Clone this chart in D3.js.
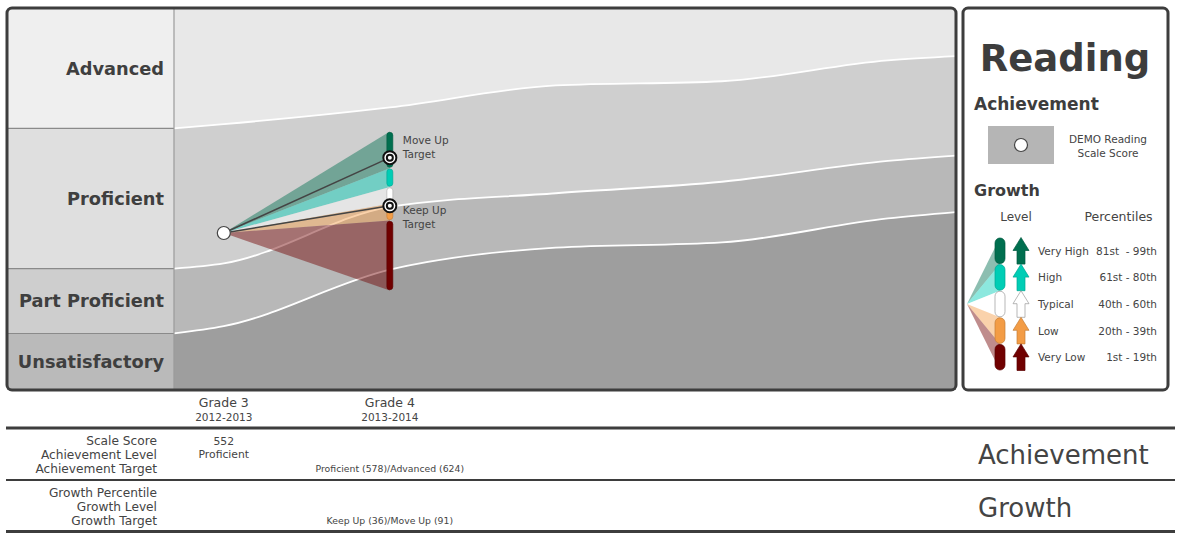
<!DOCTYPE html>
<html><head><meta charset="utf-8">
<script src="https://cdn.jsdelivr.net/npm/d3@7"></script>
<style>body{margin:0;background:#fff;} svg{display:block;font-family:"DejaVu Sans",sans-serif;}</style>
</head><body>
<svg id="chart" width="1181" height="539"></svg>
<script>
// ---------- data ----------
const levels = ["Advanced", "Proficient", "Part Proficient", "Unsatisfactory"];
const cutGrades = [2.7, 3, 4, 5, 6, 7, 7.41];
const cutAdvanced = [652, 656, 672, 693, 697, 717, 721];
const cutProficient = [518, 523, 577, 590, 601, 621, 626];
const cutPartProficient = [456, 463, 517, 538, 543, 566, 572];
const scoreDomain = [402, 767];
const gradeDomain = [2.7, 7.41];
const gradeNums = [3, 4];
const gradeLabels = ["Grade 3", "Grade 4"];
const yearLabels = ["2012-2013", "2013-2014"];
const studentScores = [552];
const studentLevels = ["Proficient"];
const growthLevels = ["Very High", "High", "Typical", "Low", "Very Low"];
const growthPercentileLabels = ["81st  - 99th", "61st - 80th", "40th - 60th", "20th - 39th", "1st - 19th"];
const growthBounds = [649, 614, 596, 580, 564, 497]; // grade 4 projected scores at 99th/80th/60th/40th/20th/1st
const targetNames = ["Move Up", "Keep Up"];
const targetScores = [624, 578];
const achievementTargetText = "Proficient (578)/Advanced (624)";
const growthTargetText = "Keep Up (36)/Move Up (91)";
const rowLabelsAch = ["Scale Score", "Achievement Level", "Achievement Target"];
const rowLabelsGrowth = ["Growth Percentile", "Growth Level", "Growth Target"];

// ---------- styles ----------
const bandColors = ["#e8e8e8", "#cfcfcf", "#b8b8b8", "#9e9e9e"];
const panelColors = ["#efefef", "#dfdfdf", "#cecece", "#bababa"];
const growthColors = ["#006f4f", "#00cdb5", "#ffffff", "#f39c45", "#700000"];
const ink = "#3d3d3d", txt = "#444";

const svg = d3.select("#chart");
const plot = {x0: 174, x1: 956, y0: 8, y1: 390};
const x = d3.scaleLinear().domain(gradeDomain).range([plot.x0, plot.x1]);
const y = d3.scaleLinear().domain(scoreDomain).range([plot.y1, plot.y0]);

svg.append("defs").append("clipPath").attr("id", "pc")
  .append("rect").attr("x", plot.x0).attr("y", plot.y0)
  .attr("width", plot.x1 - plot.x0).attr("height", plot.y1 - plot.y0);

const cuts = [cutAdvanced, cutProficient, cutPartProficient];
const topEdge = cutGrades.map(() => scoreDomain[1]);
const botEdge = cutGrades.map(() => scoreDomain[0]);
const bounds = [topEdge, ...cuts, botEdge];

const g = svg.append("g").attr("clip-path", "url(#pc)");
levels.forEach((lv, i) => {
  const upper = bounds[i], lower = bounds[i + 1];
  const area = d3.area().curve(d3.curveMonotoneX)
    .x((d, j) => x(cutGrades[j]))
    .y0((d, j) => y(lower[j])).y1((d, j) => y(upper[j]));
  g.append("path").attr("d", area(cutGrades)).attr("fill", bandColors[i]);
});
cuts.forEach(c => {
  const line = d3.line().curve(d3.curveMonotoneX)
    .x((d, j) => x(cutGrades[j])).y((d, j) => y(c[j]));
  g.append("path").attr("d", line(cutGrades)).attr("fill", "none")
    .attr("stroke", "#fff").attr("stroke-width", 1.8);
});

// left label panel
levels.forEach((lv, i) => {
  const yt = y(bounds[i][0]), yb = y(bounds[i + 1][0]);
  svg.append("rect").attr("x", 7).attr("y", yt).attr("width", plot.x0 - 7)
    .attr("height", yb - yt).attr("fill", panelColors[i]);
  svg.append("text").attr("x", 164).attr("y", (yt + yb) / 2).attr("dy", "0.36em")
    .attr("text-anchor", "end").attr("font-size", 17.8).attr("font-weight", "bold")
    .attr("fill", "#3f3f3f").text(lv);
});
cuts.forEach(c => {
  svg.append("line").attr("x1", 7).attr("x2", plot.x0).attr("y1", y(c[0])).attr("y2", y(c[0]))
    .attr("stroke", "#8a8a8a").attr("stroke-width", 1.2);
});
svg.append("line").attr("x1", plot.x0).attr("x2", plot.x0).attr("y1", plot.y0).attr("y2", plot.y1)
  .attr("stroke", "#9a9a9a").attr("stroke-width", 1.2);

// growth fan
const sx = x(gradeNums[0]), sy = y(studentScores[0]);
const tx = x(gradeNums[1]);
growthLevels.forEach((lv, i) => {
  const pts = [[sx, sy], [tx, y(growthBounds[i])], [tx, y(growthBounds[i + 1])]];
  svg.append("path").attr("d", "M" + pts.join("L") + "Z")
    .attr("fill", growthColors[i]).attr("fill-opacity", 0.45);
});
growthLevels.forEach((lv, i) => {
  const y0 = y(growthBounds[i]), y1 = y(growthBounds[i + 1]);
  svg.append("rect").attr("x", tx - 3).attr("y", y0 + 0.8).attr("width", 6)
    .attr("height", y1 - y0 - 1.6).attr("rx", 3)
    .attr("fill", growthColors[i])
    .attr("stroke", i === 2 ? "#aaa" : d3.color(growthColors[i]).darker(0.6))
    .attr("stroke-width", 0.6);
});
// target lines
targetScores.forEach(s => {
  svg.append("line").attr("x1", sx).attr("y1", sy).attr("x2", tx).attr("y2", y(s))
    .attr("stroke", "#444").attr("stroke-width", 1.5);
});
targetScores.forEach((s, i) => {
  const ty = y(s);
  svg.append("circle").attr("cx", tx).attr("cy", ty).attr("r", 6.5)
    .attr("fill", "#fff").attr("stroke", "#111").attr("stroke-width", 2);
  svg.append("circle").attr("cx", tx).attr("cy", ty).attr("r", 3)
    .attr("fill", "#fff").attr("stroke", "#111").attr("stroke-width", 2);
  const offs = i === 0 ? [-14, 0] : [8, 22];
  [targetNames[i], "Target"].forEach((t, k) => {
    svg.append("text").attr("x", tx + 13).attr("y", ty + offs[k])
      .attr("font-size", 10.5).attr("fill", txt).text(t);
  });
});
svg.append("circle").attr("cx", sx).attr("cy", sy).attr("r", 6.5)
  .attr("fill", "#fff").attr("stroke", "#444").attr("stroke-width", 1.2);

// main frame
svg.append("rect").attr("x", 7).attr("y", 8).attr("width", 949).attr("height", 382)
  .attr("rx", 5).attr("fill", "none").attr("stroke", ink).attr("stroke-width", 3);

// ---------- legend ----------
const L = svg.append("g");
L.append("rect").attr("x", 963).attr("y", 8).attr("width", 205).attr("height", 382)
  .attr("rx", 5).attr("fill", "#fff").attr("stroke", ink).attr("stroke-width", 3);
L.append("text").attr("x", 1065).attr("y", 71).attr("text-anchor", "middle")
  .attr("font-size", 37).attr("font-weight", "bold").attr("fill", ink).text("Reading");
L.append("text").attr("x", 974).attr("y", 110).attr("font-size", 17)
  .attr("font-weight", "bold").attr("fill", ink).text("Achievement");
L.append("rect").attr("x", 988).attr("y", 126).attr("width", 66).attr("height", 38).attr("fill", "#b5b5b5");
L.append("circle").attr("cx", 1021).attr("cy", 145).attr("r", 6.5)
  .attr("fill", "#fff").attr("stroke", "#444").attr("stroke-width", 1.2);
["DEMO Reading", "Scale Score"].forEach((t, k) => {
  L.append("text").attr("x", 1108).attr("y", 143 + k * 13.5).attr("text-anchor", "middle")
    .attr("font-size", 10.5).attr("fill", txt).text(t);
});
L.append("text").attr("x", 974).attr("y", 196).attr("font-size", 16)
  .attr("font-weight", "bold").attr("fill", ink).text("Growth");
L.append("text").attr("x", 1016).attr("y", 221).attr("text-anchor", "middle")
  .attr("font-size", 12).attr("fill", txt).text("Level");
L.append("text").attr("x", 1118.5).attr("y", 221).attr("text-anchor", "middle")
  .attr("font-size", 12.5).attr("fill", txt).text("Percentiles");

const rowTop = 237.5, rowH = 26.6, vx = 967, vy = rowTop + rowH * 2.5;
growthLevels.forEach((lv, i) => {
  const t0 = rowTop + i * rowH, t1 = t0 + rowH;
  L.append("path").attr("d", `M${vx},${vy}L1000,${t0}L1000,${t1}Z`)
    .attr("fill", growthColors[i]).attr("fill-opacity", 0.45);
});
growthLevels.forEach((lv, i) => {
  const t0 = rowTop + i * rowH, t1 = t0 + rowH, c = growthColors[i];
  const st = i === 2 ? "#999" : d3.color(c).darker(0.6);
  L.append("rect").attr("x", 995).attr("y", t0 + 0.5).attr("width", 10).attr("height", rowH - 1)
    .attr("rx", 5).attr("fill", c).attr("stroke", st).attr("stroke-width", 0.7);
  const ax = 1021, hh = 13;
  const arrow = [[ax, t0], [ax + 8, t0 + hh], [ax + 4, t0 + hh], [ax + 4, t1], [ax - 4, t1], [ax - 4, t0 + hh], [ax - 8, t0 + hh]];
  L.append("path").attr("d", "M" + arrow.join("L") + "Z").attr("fill", c)
    .attr("stroke", st).attr("stroke-width", 0.7);
  const mid = (t0 + t1) / 2;
  L.append("text").attr("x", 1038).attr("y", mid + 4).attr("font-size", 10.5)
    .attr("fill", txt).text(lv);
  L.append("text").attr("x", 1157).attr("y", mid + 4).attr("text-anchor", "end")
    .attr("font-size", 10.5).attr("fill", txt)
    .style("white-space", "pre").text(growthPercentileLabels[i]);
});

// ---------- table ----------
[[428, 3], [480, 2], [531.5, 3]].forEach(([yy, w]) => {
  svg.append("line").attr("x1", 6).attr("x2", 1175).attr("y1", yy).attr("y2", yy)
    .attr("stroke", ink).attr("stroke-width", w);
});
gradeNums.forEach((gn, i) => {
  svg.append("text").attr("x", x(gn)).attr("y", 406.5).attr("text-anchor", "middle")
    .attr("font-size", 12.5).attr("fill", txt).text(gradeLabels[i]);
  svg.append("text").attr("x", x(gn)).attr("y", 420.5).attr("text-anchor", "middle")
    .attr("font-size", 10.5).attr("fill", txt).text(yearLabels[i]);
});
rowLabelsAch.forEach((t, k) => {
  svg.append("text").attr("x", 157).attr("y", 444.5 + k * 14).attr("text-anchor", "end")
    .attr("font-size", 12.2).attr("fill", txt).text(t);
});
rowLabelsGrowth.forEach((t, k) => {
  svg.append("text").attr("x", 157).attr("y", 496.5 + k * 14).attr("text-anchor", "end")
    .attr("font-size", 12.2).attr("fill", txt).text(t);
});
svg.append("text").attr("x", x(gradeNums[0])).attr("y", 444.5).attr("text-anchor", "middle")
  .attr("font-size", 10.8).attr("fill", txt).text(studentScores[0]);
svg.append("text").attr("x", x(gradeNums[0])).attr("y", 458).attr("text-anchor", "middle")
  .attr("font-size", 10.8).attr("fill", txt).text(studentLevels[0]);
svg.append("text").attr("x", x(gradeNums[1])).attr("y", 471.5).attr("text-anchor", "middle")
  .attr("font-size", 9.3).attr("fill", txt).text(achievementTargetText);
svg.append("text").attr("x", x(gradeNums[1])).attr("y", 523.5).attr("text-anchor", "middle")
  .attr("font-size", 9.3).attr("fill", txt).text(growthTargetText);
svg.append("text").attr("x", 978).attr("y", 464).attr("font-size", 26)
  .attr("fill", txt).text("Achievement");
svg.append("text").attr("x", 978).attr("y", 516.5).attr("font-size", 26)
  .attr("fill", txt).text("Growth");
</script>
</body></html>
